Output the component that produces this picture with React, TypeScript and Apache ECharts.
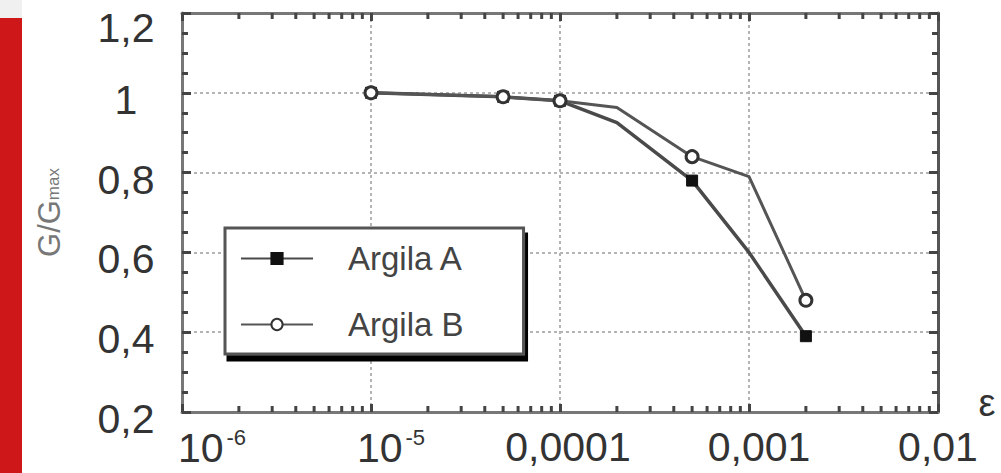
import React, { useEffect, useRef } from "react";
import * as echarts from "echarts";

// ---- data ----
const seriesNames = ["Argila A", "Argila B"];
const strainA = [1e-5, 5e-5, 1e-4, 2e-4, 5e-4, 1e-3, 2e-3];
const ratioA = [1.0, 0.99, 0.98, 0.925, 0.78, 0.6, 0.39];
const markedA = [true, true, true, false, true, false, true];
const strainB = [1e-5, 5e-5, 1e-4, 2e-4, 5e-4, 1e-3, 2e-3];
const ratioB = [1.0, 0.99, 0.98, 0.963, 0.84, 0.79, 0.48];
const markedB = [true, true, true, false, true, false, true];

// tick labels
const xTickLabels: Record<string, string> = {
  "-6": "{p6|10}{s|-6}",
  "-5": "{p5|10}{s|-5}",
  "-4": "{p4|0,0001}",
  "-3": "{p3|0,001}",
  "-2": "{p2|0,01}",
};
const yTickLabels: Record<string, string> = {
  "0.2": "0,2",
  "0.4": "0,4",
  "0.6": "0,6",
  "0.8": "0,8",
  "1": "1",
  "1.2": "{t|1,2}",
};
// logarithmic minor tick positions (2..9 in each decade)
const xMinorTicks = [
  2e-6, 3e-6, 4e-6, 5e-6, 6e-6, 7e-6, 8e-6, 9e-6,
  2e-5, 3e-5, 4e-5, 5e-5, 6e-5, 7e-5, 8e-5, 9e-5,
  2e-4, 3e-4, 4e-4, 5e-4, 6e-4, 7e-4, 8e-4, 9e-4,
  2e-3, 3e-3, 4e-3, 5e-3, 6e-3, 7e-3, 8e-3, 9e-3,
];

const FONT = "'Liberation Sans', Arial, sans-serif";
const FRAME = "#777";
const TICK = "#444";

export default function App() {
  const ref = useRef<HTMLDivElement>(null);

  useEffect(() => {
    if (!ref.current) return;
    const chart = echarts.init(ref.current, undefined, { renderer: "svg" });

    const mk = (xs: number[], ys: number[], marked: boolean[]) =>
      xs.map((x, i) =>
        marked[i] ? { value: [x, ys[i]] } : { value: [x, ys[i]], symbol: "none" }
      );

    const splitDotted = {
      show: true,
      lineStyle: { color: "#b4b4b4", width: 2, type: [3, 3] as any },
    };
    const tickStyle = { color: TICK, width: 3 };

    const option: any = {
      animation: false,
      grid: { left: 182, right: 63, top: 13, bottom: 61 },
      legend: {
        data: seriesNames,
        orient: "vertical",
        left: 225,
        top: 228,
        padding: [14, 60, 13, 15],
        itemGap: 33,
        itemWidth: 72,
        itemHeight: 14,
        backgroundColor: "#fff",
        borderColor: "#555",
        borderWidth: 3,
        shadowColor: "#000",
        shadowOffsetX: 3,
        shadowOffsetY: 6,
        shadowBlur: 1,
        textStyle: {
          fontFamily: FONT,
          fontSize: 33,
          color: "#444",
          lineHeight: 30,
          padding: [0, 0, 0, 30],
        },
      },
      xAxis: [
        {
          type: "log",
          logBase: 10,
          min: 1e-6,
          max: 1e-2,
          position: "bottom",
          axisLine: { show: true, lineStyle: { color: FRAME, width: 3 } },
          axisTick: { show: true, inside: true, length: 8, lineStyle: tickStyle },
          splitLine: splitDotted,
          axisLabel: {
            show: true,
            showMinLabel: true,
            showMaxLabel: true,
            margin: 14,
            color: "#333",
            fontFamily: FONT,
            formatter: (v: number) => xTickLabels[String(Math.round(Math.log10(v)))] ?? "",
            rich: {
              p6: { fontSize: 41, color: "#333", fontFamily: FONT, padding: [0, 0, 0, 60] },
              p5: { fontSize: 41, color: "#333", fontFamily: FONT, padding: [0, 0, 0, 40] },
              p4: { fontSize: 41, color: "#333", fontFamily: FONT, padding: [0, 0, 0, 16] },
              p3: { fontSize: 41, color: "#333", fontFamily: FONT, padding: [0, 0, 0, 20] },
              p2: { fontSize: 41, color: "#333", fontFamily: FONT },
              s: { fontSize: 22, color: "#333", fontFamily: FONT, padding: [0, 0, 22, 3] },
            },
          },
        },
        {
          type: "log",
          logBase: 10,
          min: 1e-6,
          max: 1e-2,
          position: "top",
          axisLine: { show: true, lineStyle: { color: FRAME, width: 3 } },
          axisTick: { show: true, inside: true, length: 8, lineStyle: tickStyle },
          splitLine: { show: false },
          axisLabel: { show: false },
        },
      ],
      yAxis: [
        {
          type: "value",
          min: 0.2,
          max: 1.2,
          interval: 0.2,
          position: "left",
          name: "{g|G/G}{m|max}",
          nameLocation: "middle",
          nameRotate: 90,
          nameGap: 117,
          nameTextStyle: {
            rich: {
              g: { fontSize: 31, color: "#777", fontFamily: FONT },
              m: { fontSize: 17, color: "#777", fontFamily: FONT, padding: [8, 0, 0, 0] },
            },
          },
          axisLine: { show: true, lineStyle: { color: FRAME, width: 3 } },
          axisTick: { show: true, inside: true, length: 9, lineStyle: tickStyle },
          minorTick: { show: true, splitNumber: 4, length: 6, lineStyle: tickStyle },
          splitLine: splitDotted,
          axisLabel: {
            show: true,
            align: "center",
            margin: 56,
            fontSize: 41,
            color: "#333",
            fontFamily: FONT,
            padding: [14, 0, 0, 0],
            formatter: (v: number) => yTickLabels[String(Math.round(v * 10) / 10)] ?? "",
            rich: {
              t: { fontSize: 41, color: "#333", fontFamily: FONT, padding: [16, 0, 0, 0] },
            },
          },
        },
        {
          type: "value",
          min: 0.2,
          max: 1.2,
          interval: 0.2,
          position: "right",
          axisLine: { show: true, lineStyle: { color: "#555", width: 3 } },
          axisTick: { show: true, inside: true, length: 9, lineStyle: tickStyle },
          minorTick: { show: true, splitNumber: 4, length: 6, lineStyle: tickStyle },
          splitLine: { show: false },
          axisLabel: { show: false },
        },
      ],
      graphic: [
        { type: "rect", shape: { x: 0, y: 0, width: 22, height: 18 }, style: { fill: "#f0f0f0" } },
        { type: "rect", shape: { x: 0, y: 18, width: 22, height: 455 }, style: { fill: "#cd1719" } },
        {
          type: "text",
          x: 987,
          y: 403,
          style: { text: "ε", fontSize: 38, fill: "#333", fontFamily: FONT, align: "center", verticalAlign: "middle" },
        },
      ],
      series: [
        {
          type: "custom",
          data: xMinorTicks.map((v) => [v, 0.2]),
          renderItem: (params: any, api: any) => {
            const x = api.value(0);
            const b = api.coord([x, 0.2]);
            const t = api.coord([x, 1.2]);
            return {
              type: "group",
              children: [
                { type: "line", shape: { x1: b[0], y1: b[1], x2: b[0], y2: b[1] - 6 }, style: { stroke: TICK, lineWidth: 3 } },
                { type: "line", shape: { x1: t[0], y1: t[1], x2: t[0], y2: t[1] + 6 }, style: { stroke: TICK, lineWidth: 3 } },
              ],
            };
          },
        },
        {
          name: seriesNames[0],
          type: "line",
          data: mk(strainA, ratioA, markedA),
          symbol: "rect",
          symbolSize: 11,
          showAllSymbol: true,
          lineStyle: { color: "#4a4a4a", width: 3.5 },
          itemStyle: { color: "#111", borderColor: "#111", borderWidth: 1 },
          z: 4,
        },
        {
          name: seriesNames[1],
          type: "line",
          data: mk(strainB, ratioB, markedB),
          symbol: "circle",
          symbolSize: 12,
          showAllSymbol: true,
          lineStyle: { color: "#555", width: 3 },
          itemStyle: { color: "#fff", borderColor: "#333", borderWidth: 3 },
          z: 5,
        },
      ],
    };

    chart.setOption(option);
    return () => chart.dispose();
  }, []);

  return (
    <div
      ref={ref}
      style={{ position: "fixed", left: 0, top: 0, width: 1001, height: 473, background: "#fff" }}
    />
  );
}
